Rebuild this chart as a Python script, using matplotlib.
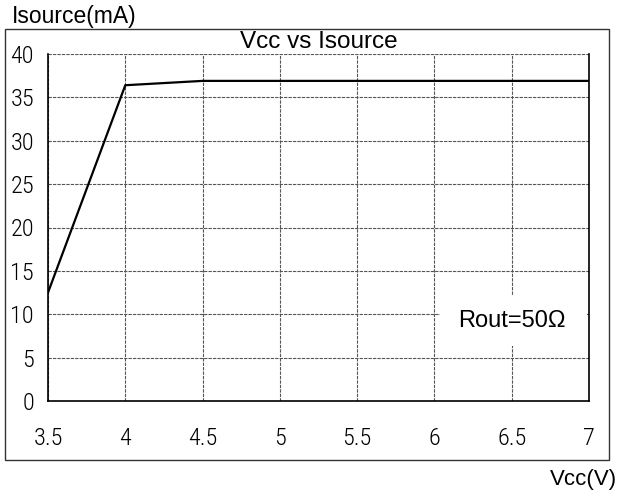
import matplotlib
matplotlib.use("Agg")
import matplotlib.pyplot as plt
from matplotlib.patches import Rectangle

vcc = [3.5, 4.0, 4.5, 5.0, 5.5, 6.0, 6.5, 7.0]
isource = [12.5, 36.4, 36.9, 36.9, 36.9, 36.9, 36.9, 36.9]
x_ticks = [3.5, 4, 4.5, 5, 5.5, 6, 6.5, 7]
x_tick_labels = ["3.5", "4", "4.5", "5", "5.5", "6", "6.5", "7"]
y_ticks = [0, 5, 10, 15, 20, 25, 30, 35, 40]
y_tick_labels = [str(v) for v in y_ticks]

narrow = ["Roboto Condensed", "DejaVu Sans"]
sans = ["Liberation Sans", "DejaVu Sans"]

W, H = 619, 495
fig = plt.figure(figsize=(W / 100, H / 100), dpi=100)

# outer frame
fig.patches.append(Rectangle((5 / W, 1 - 460 / H), (609 - 5) / W, (460 - 29) / H,
                             transform=fig.transFigure, fill=False,
                             edgecolor="#333333", linewidth=1.0))

ax = fig.add_axes([48 / W, 1 - 401 / H, (589 - 48) / W, (401 - 54) / H])
ax.plot(vcc, isource, color="black", linewidth=1.6, zorder=3)

ax.set_xlim(3.5, 7)
ax.set_ylim(0, 40)
ax.set_xticks(x_ticks)
ax.set_xticklabels(x_tick_labels, family=narrow, fontsize=17.5, fontweight="light")
ax.set_yticks(y_ticks)
ax.set_yticklabels(y_tick_labels, family=narrow, fontsize=17.5, fontweight="light")
ax.tick_params(axis="x", length=0, pad=19)
ax.tick_params(axis="y", length=0, pad=10)
ax.grid(True, color="#555555", linestyle=(0, (3, 1)), linewidth=0.8)
ax.set_axisbelow(True)
ax.spines["top"].set_visible(False)
for s in ("left", "bottom", "right"):
    ax.spines[s].set_linewidth(1.2)
    ax.spines[s].set_zorder(4)

ax.text(5.25, 41.4, "Vcc vs Isource", ha="center", va="center",
        family=sans, fontsize=17.5, zorder=5)

# annotation box
ax.add_patch(Rectangle((6.035, 6.3), 0.95, 5.8, facecolor="white",
                       edgecolor="none", zorder=2))
ax.text(6.5, 9.2, "Rout=50Ω", ha="center", va="center",
        family=sans, fontsize=17, zorder=5)

fig.text(12 / W, 1 - 16 / H, "Isource(mA)", ha="left", va="center",
         family=sans, fontsize=16.5)
fig.text(617 / W, 1 - 479 / H, "Vcc(V)", ha="right", va="center",
         family=sans, fontsize=16)

fig.savefig("out.png", dpi=100, facecolor="white")
